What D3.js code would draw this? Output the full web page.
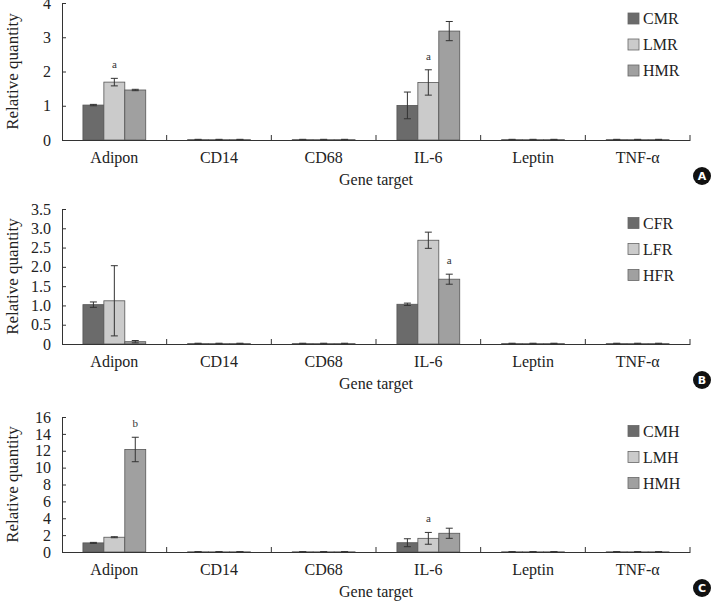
<!DOCTYPE html>
<html><head><meta charset="utf-8">
<script src="https://cdn.jsdelivr.net/npm/d3@7"></script>
<style>body{margin:0;background:#fff}svg{display:block}</style>
</head><body>
<svg id="c" width="717" height="601"></svg>
<script>
const categories = ["Adipon","CD14","CD68","IL-6","Leptin","TNF-α"];

// Panel A
const seriesA = ["CMR","LMR","HMR"];
const valuesA_CMR = [1.02,0.01,0.01,1.01,0.01,0.01];
const valuesA_LMR = [1.69,0.01,0.01,1.68,0.01,0.01];
const valuesA_HMR = [1.46,0.01,0.01,3.18,0.01,0.01];
const errA_CMR = [0.02,0.01,0.01,0.39,0.01,0.01];
const errA_LMR = [0.11,0.01,0.01,0.37,0.01,0.01];
const errA_HMR = [0.02,0.01,0.01,0.28,0.01,0.01];
const ticksA = [0,1,2,3,4];
const marksA = [{cat:"Adipon",s:1,t:"a"},{cat:"IL-6",s:1,t:"a"}];

// Panel B
const seriesB = ["CFR","LFR","HFR"];
const valuesB_CFR = [1.02,0.01,0.01,1.03,0.01,0.01];
const valuesB_LFR = [1.12,0.01,0.01,2.69,0.01,0.01];
const valuesB_HFR = [0.06,0.01,0.01,1.68,0.01,0.01];
const errB_CFR = [0.07,0.01,0.01,0.03,0.01,0.01];
const errB_LFR = [0.91,0.01,0.01,0.21,0.01,0.01];
const errB_HFR = [0.03,0.01,0.01,0.13,0.01,0.01];
const ticksB = [0,0.5,1.0,1.5,2.0,2.5,3.0,3.5];
const marksB = [{cat:"IL-6",s:2,t:"a"}];

// Panel C
const seriesC = ["CMH","LMH","HMH"];
const valuesC_CMH = [1.08,0.02,0.02,1.1,0.02,0.02];
const valuesC_LMH = [1.75,0.02,0.02,1.62,0.02,0.02];
const valuesC_HMH = [12.15,0.02,0.02,2.22,0.02,0.02];
const errC_CMH = [0.06,0.02,0.02,0.47,0.02,0.02];
const errC_LMH = [0.06,0.02,0.02,0.7,0.02,0.02];
const errC_HMH = [1.45,0.02,0.02,0.6,0.02,0.02];
const ticksC = [0,2,4,6,8,10,12,14,16];
const marksC = [{cat:"Adipon",s:2,t:"b"},{cat:"IL-6",s:1,t:"a"}];

const fills = ["#6b6b6b","#cbcbcb","#a0a0a0"];
const serif = "'Liberation Serif','Times New Roman',serif";
const svg = d3.select("#c");

const panels = [
  {series:seriesA, vals:[valuesA_CMR,valuesA_LMR,valuesA_HMR], errs:[errA_CMR,errA_LMR,errA_HMR], ticks:ticksA, fmt:d3.format("d"), marks:marksA, top:3, bottom:140, letter:"A", legY:18.5},
  {series:seriesB, vals:[valuesB_CFR,valuesB_LFR,valuesB_HFR], errs:[errB_CFR,errB_LFR,errB_HFR], ticks:ticksB, fmt:d=>d===0?"0":d3.format(".1f")(d), marks:marksB, top:209, bottom:344, letter:"B", legY:223},
  {series:seriesC, vals:[valuesC_CMH,valuesC_LMH,valuesC_HMH], errs:[errC_CMH,errC_LMH,errC_HMH], ticks:ticksC, fmt:d3.format("d"), marks:marksC, top:417, bottom:552, letter:"C", legY:431}
];

const left = 62, right = 690;
const x = d3.scaleBand().domain(categories).range([left,right]).paddingInner(0).paddingOuter(0);
const bw = x.bandwidth();
const groupW = bw*0.6;

panels.forEach(p=>{
  const g = svg.append("g");
  const y = d3.scaleLinear().domain([0, d3.max(p.ticks)]).range([p.bottom, p.top]);
  const xs = d3.scaleBand().domain(p.series).range([0, groupW]).padding(0);
  const data = [];
  categories.forEach((c,i)=>p.series.forEach((s,j)=>data.push({c, s, j, v:p.vals[j][i], e:p.errs[j][i]})));
  const off = (bw-groupW)/2;
  // bars
  g.selectAll("rect.bar").data(data).join("rect")
    .attr("x", d=>x(d.c)+off+xs(d.s))
    .attr("width", xs.bandwidth())
    .attr("y", d=>y(d.v))
    .attr("height", d=>y(0)-y(d.v))
    .attr("fill", d=>fills[d.j])
    .attr("stroke","#555").attr("stroke-width",0.8);
  // error bars
  const eg = g.selectAll("g.err").data(data).join("g").attr("stroke","#333").attr("stroke-width",1);
  eg.append("line")
    .attr("x1", d=>x(d.c)+off+xs(d.s)+xs.bandwidth()/2)
    .attr("x2", d=>x(d.c)+off+xs(d.s)+xs.bandwidth()/2)
    .attr("y1", d=>y(d.v+d.e)).attr("y2", d=>y(Math.max(0,d.v-d.e)));
  [1,-1].forEach(sg=>{
    eg.append("line")
      .attr("x1", d=>x(d.c)+off+xs(d.s)+xs.bandwidth()/2-3.5)
      .attr("x2", d=>x(d.c)+off+xs(d.s)+xs.bandwidth()/2+3.5)
      .attr("y1", d=>y(Math.max(0,d.v+sg*d.e))).attr("y2", d=>y(Math.max(0,d.v+sg*d.e)));
  });
  // significance letters
  g.selectAll("text.mk").data(p.marks).join("text")
    .attr("x", d=>x(d.cat)+off+xs(p.series[d.s])+xs.bandwidth()/2)
    .attr("y", d=>{const i=categories.indexOf(d.cat); return y(p.vals[d.s][i]+p.errs[d.s][i]) - 10;})
    .attr("text-anchor","middle").attr("font-family",serif).attr("font-size",11).attr("fill","#333")
    .text(d=>d.t);
  // y axis
  const ya = d3.axisLeft(y).tickValues(p.ticks).tickFormat(p.fmt).tickSize(-4).tickPadding(11);
  const yg = g.append("g").attr("transform",`translate(${left},0)`).call(ya);
  yg.select(".domain").attr("stroke","#333");
  yg.selectAll(".tick line").attr("stroke","#333");
  yg.selectAll("text").attr("font-family",serif).attr("font-size",16).attr("fill","#222");
  // x axis
  const xa = d3.axisBottom(x).tickSize(0).tickPadding(12);
  const xg = g.append("g").attr("transform",`translate(0,${p.bottom})`).call(xa);
  xg.select(".domain").attr("stroke","#333");
  xg.selectAll("text").attr("font-family",serif).attr("font-size",16).attr("fill","#222");
  xg.selectAll("line.sep").data(categories).join("line").attr("class","sep")
    .attr("x1", d=>x(d)+bw).attr("x2", d=>x(d)+bw).attr("y1",0).attr("y2",-5).attr("stroke","#333");
  // titles
  g.append("text").attr("x",(left+right)/2).attr("y",p.bottom+45)
    .attr("text-anchor","middle").attr("font-family",serif).attr("font-size",16).attr("fill","#222").text("Gene target");
  g.append("text").attr("transform",`translate(18,${(p.top+p.bottom)/2}) rotate(-90)`)
    .attr("text-anchor","middle").attr("font-family",serif).attr("font-size",17).attr("fill","#222").text("Relative quantity");
  // legend
  const lg = g.selectAll("g.leg").data(p.series).join("g").attr("transform",(d,i)=>`translate(628,${p.legY+i*26})`);
  lg.append("rect").attr("x",0).attr("y",-5.5).attr("width",11).attr("height",11)
    .attr("fill",(d,i)=>fills[i]).attr("stroke","#666").attr("stroke-width",0.8);
  lg.append("text").attr("x",15).attr("y",0).attr("dy","0.35em")
    .attr("font-family",serif).attr("font-size",16).attr("fill","#222").text(d=>d);
  // badge
  const by = p.bottom + 36;
  g.append("circle").attr("cx",702).attr("cy",by).attr("r",9).attr("fill","#111");
  g.append("text").attr("x",702).attr("y",by).attr("dy","0.36em").attr("text-anchor","middle")
    .attr("font-family","'DejaVu Sans',sans-serif").attr("font-weight","bold").attr("font-size",11).attr("fill","#fff").text(p.letter);
});
</script>
</body></html>
